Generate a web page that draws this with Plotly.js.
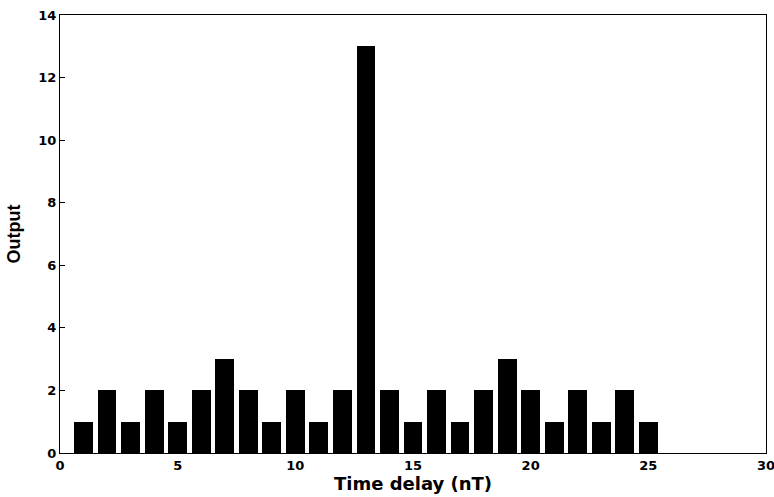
<!DOCTYPE html>
<html>
<head>
<meta charset="utf-8">
<script src="https://cdn.plot.ly/plotly-3.0.1.min.js"></script>
<style>
  html, body { margin: 0; padding: 0; background: #fff; }
  #chart { width: 774px; height: 497px; }
</style>
</head>
<body>
<div id="chart"></div>
<script>
// Time delay index (nT) and the corresponding output magnitude
const delays = [1, 2, 3, 4, 5, 6, 7, 8, 9, 10, 11, 12, 13, 14, 15, 16, 17, 18, 19, 20, 21, 22, 23, 24, 25];
const outputs = [1, 2, 1, 2, 1, 2, 3, 2, 1, 2, 1, 2, 13, 2, 1, 2, 1, 2, 3, 2, 1, 2, 1, 2, 1];

const xTicks = [0, 5, 10, 15, 20, 25, 30];
const yTicks = [0, 2, 4, 6, 8, 10, 12, 14];

const tickFont = { family: 'DejaVu Sans', size: 13, color: '#000', weight: 700 };
const xTitleFont = { family: 'DejaVu Sans', size: 18, color: '#000', weight: 700 };
const yTitleFont = { family: 'Liberation Sans', size: 18, color: '#000', weight: 700 };

const trace = {
  type: 'bar',
  x: delays,
  y: outputs,
  width: 0.8,
  marker: { color: '#000', line: { width: 0 } },
  hoverinfo: 'x+y'
};

const axisCommon = {
  showgrid: false,
  zeroline: false,
  showline: true,
  linecolor: '#000',
  linewidth: 1,
  mirror: true,
  ticks: 'inside',
  ticklen: 5,
  tickcolor: '#000',
  tickfont: tickFont,
  ticklabeloverflow: 'allow'
};

const layout = {
  width: 774,
  height: 497,
  margin: { l: 60, r: 8, t: 15, b: 44 },
  paper_bgcolor: '#fff',
  plot_bgcolor: '#fff',
  showlegend: false,
  bargap: 0,
  xaxis: Object.assign({}, axisCommon, {
    range: [0, 30],
    tickvals: xTicks,
    ticktext: xTicks.map(String),
    title: { text: 'Time delay (nT)', font: xTitleFont, standoff: 3 }
  }),
  yaxis: Object.assign({}, axisCommon, {
    range: [0, 14],
    tickvals: yTicks,
    ticktext: yTicks.map(String),
    title: { text: 'Output', font: yTitleFont, standoff: 13 }
  })
};

Plotly.newPlot('chart', [trace], layout, { displayModeBar: false, staticPlot: true });
</script>
</body>
</html>
